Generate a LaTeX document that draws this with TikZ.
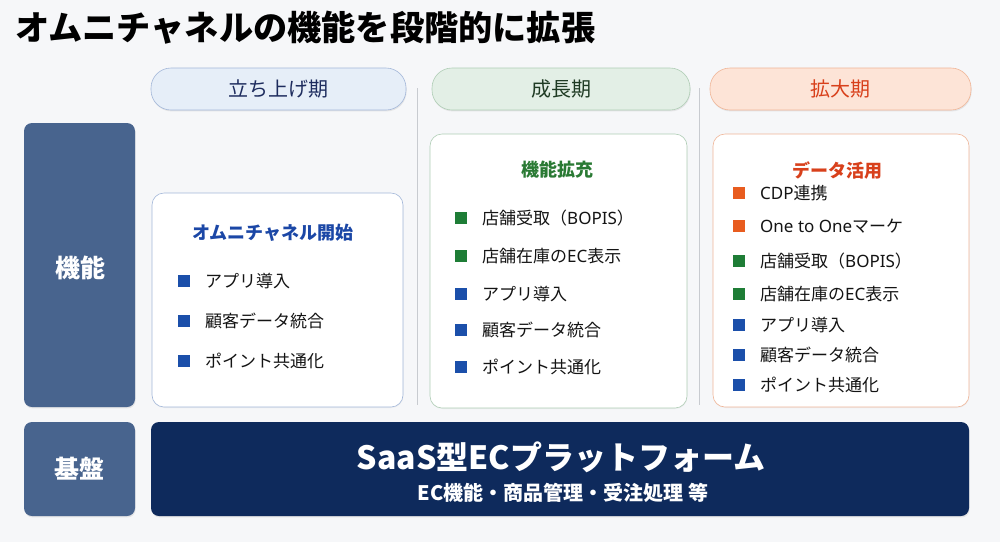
\documentclass[tikz,border=0pt]{standalone}
\usepackage{fontspec}
\setmainfont{Noto Sans CJK JP}
\newfontfamily\latn{Noto Sans}
\usetikzlibrary{shadows}
\definecolor{bgcol}{HTML}{F6F7F9}
\definecolor{navy}{HTML}{0E2A5C}
\definecolor{steel}{HTML}{48648E}
\definecolor{bluefill}{HTML}{E6EEF8}
\definecolor{blueline}{HTML}{A3B7D9}
\definecolor{bluetext}{HTML}{1E2C5E}
\definecolor{blueitem}{HTML}{1B4FAA}
\definecolor{bluehead}{HTML}{1B47A6}
\definecolor{greenfill}{HTML}{E3EFE6}
\definecolor{greenline}{HTML}{AFCDB5}
\definecolor{greentext}{HTML}{1F3B24}
\definecolor{greenitem}{HTML}{1E7D36}
\definecolor{greenhead}{HTML}{2A7A34}
\definecolor{orangefill}{HTML}{FDE4D7}
\definecolor{orangeline}{HTML}{F0B597}
\definecolor{orangetext}{HTML}{D8401B}
\definecolor{orangeitem}{HTML}{E85C1F}
\definecolor{sepline}{HTML}{C8CBD0}
\newcommand\fsz[1]{\fontsize{#1}{#1}\selectfont}
\newcommand\lt[1]{{\latn #1}}
\newcommand\featitem[5]{\node[bulsq,fill=#4] (#1sq) at (#2,#3) {};
\node[itemtxt] (#1) at (#2+21,#3) {#5};}

\begin{document}
\begin{tikzpicture}[x=1pt,y=-1pt,
  soft/.style={drop shadow={shadow xshift=0.6pt,shadow yshift=-1.4pt,opacity=0.16}},
  faint/.style={drop shadow={shadow xshift=0.4pt,shadow yshift=-1pt,opacity=0.08}},
  sidebox/.style={rounded corners=8pt,fill=steel,text=white,inner sep=0pt,soft,
    minimum width=111pt,font=\bfseries\fsz{25}},
  pill/.style={rounded corners=20pt,line width=0.6pt,inner sep=0pt,soft,
    minimum height=42pt,font=\fsz{20}},
  card/.style={rounded corners=12pt,fill=white,line width=0.6pt,inner sep=0pt,faint},
  cardhead/.style={font=\bfseries\fsz{18},inner sep=0pt},
  bulsq/.style={minimum size=12pt,inner sep=0pt},
  itemtxt/.style={anchor=west,inner sep=0pt,text=black!92,font=\fsz{17}}]
\fill[bgcol] (0,0) rectangle (1000,542);
\useasboundingbox (0,0) rectangle (1000,542);
% title
\node[anchor=west,inner sep=0pt,font=\bfseries\fsz{34.2}] (title) at (15,28) {オムニチャネルの機能を段階的に拡張};
% row labels
\node[sidebox,minimum height=284pt] (func) at (79.5,265) {};
\node[text=white,font=\bfseries\fsz{25},inner sep=0pt] (funclbl) at (80,268) {機能};
\node[sidebox,minimum height=94pt] (base) at (79.5,469) {基盤};
% period headers
\node[pill,fill=bluefill,draw=blueline,text=bluetext,minimum width=255pt] (launch) at (278.5,89) {立ち上げ期};
\node[pill,fill=greenfill,draw=greenline,text=greentext,minimum width=258pt] (growth) at (561,89) {成長期};
\node[pill,fill=orangefill,draw=orangeline,text=orangetext,minimum width=261pt] (expand) at (840.5,89) {拡大期};
% separators
\coordinate (s1a) at (417,88); \coordinate (s1b) at (417,405);
\coordinate (s2a) at (699,88); \coordinate (s2b) at (699,405);
\draw[sepline,line width=0.8pt] (s1a) -- (s1b);
\draw[sepline,line width=0.8pt] (s2a) -- (s2b);
% cards
\node[card,draw=blueline,minimum width=251pt,minimum height=214pt] (card1) at (277.5,300) {};
\node[card,draw=greenline,minimum width=257pt,minimum height=274pt] (card2) at (558.5,271) {};
\node[card,draw=orangeline,minimum width=256pt,minimum height=273pt] (card3) at (841,270.5) {};
\node[cardhead,text=bluehead] (head1) at (273,233) {オムニチャネル開始};
\node[cardhead,text=greenhead] (head2) at (557,170) {機能拡充};
\node[cardhead,text=orangetext] (head3) at (837,170) {データ活用};
% items
\featitem{a1}{184}{281}{blueitem}{アプリ導入}
\featitem{a2}{184}{321}{blueitem}{顧客データ統合}
\featitem{a3}{184}{361}{blueitem}{ポイント共通化}
\featitem{b1}{461}{218}{greenitem}{店舗受取（\lt{BOPIS}）}
\featitem{b2}{461}{256}{greenitem}{店舗在庫の\lt{EC}表示}
\featitem{b3}{461}{294}{blueitem}{アプリ導入}
\featitem{b4}{461}{330}{blueitem}{顧客データ統合}
\featitem{b5}{461}{367}{blueitem}{ポイント共通化}
\featitem{c1}{739}{193}{orangeitem}{\lt{CDP}連携}
\featitem{c2}{739}{226}{orangeitem}{\lt{One to One}マーケ}
\featitem{c3}{739}{261}{greenitem}{店舗受取（\lt{BOPIS}）}
\featitem{c4}{739}{294}{greenitem}{店舗在庫の\lt{EC}表示}
\featitem{c5}{739}{325}{blueitem}{アプリ導入}
\featitem{c6}{739}{355}{blueitem}{顧客データ統合}
\featitem{c7}{739}{385}{blueitem}{ポイント共通化}
% platform
\node[rounded corners=8pt,fill=navy,inner sep=0pt,soft,minimum width=818pt,minimum height=94pt] (saas) at (560,469) {};
\node[text=white,font=\bfseries\fsz{32},inner sep=0pt] (saastitle) at (561,457) {SaaS型ECプラットフォーム};
\node[text=white,font=\bfseries\fsz{20},inner sep=0pt] (saassub) at (563,493) {EC機能・商品管理・受注処理 等};
\end{tikzpicture}
\end{document}
